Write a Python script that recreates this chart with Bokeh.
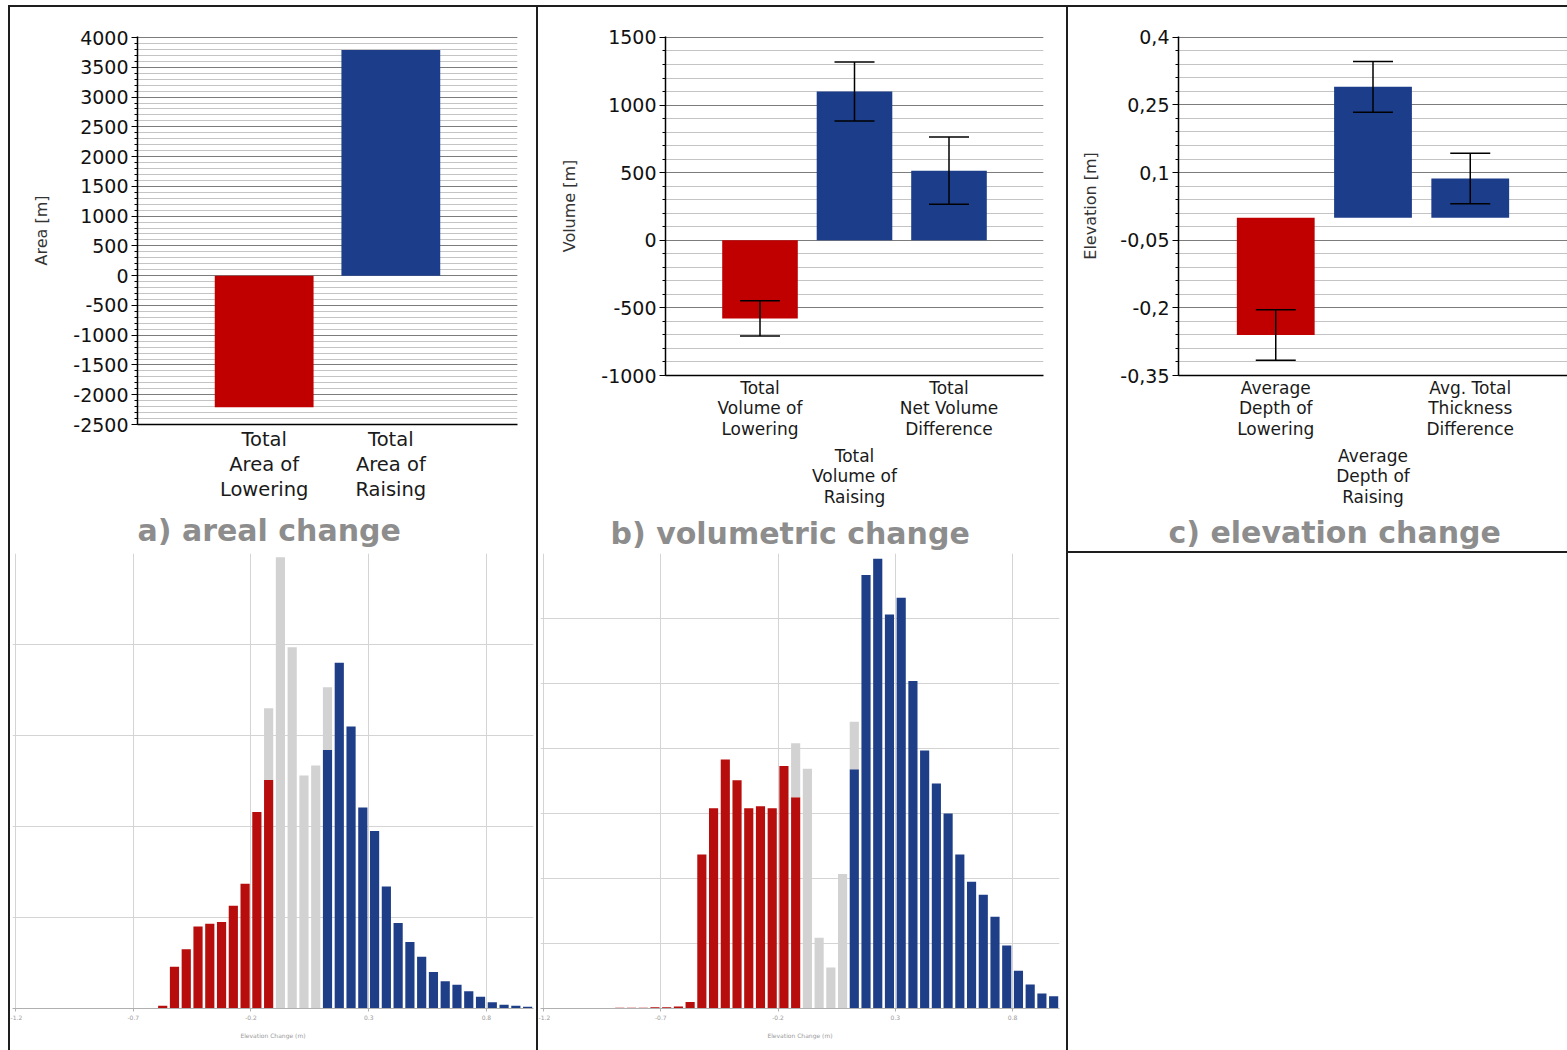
from bokeh.plotting import figure
from bokeh.models import (ColumnDataSource, FixedTicker, SingleIntervalTicker, LinearAxis,
                          Whisker, TeeHead, Title, Range1d, Spacer, PrintfTickFormatter)
from bokeh.layouts import row, column
from bokeh.embed import file_html
from bokeh.resources import INLINE

FONT = "DejaVu Sans"

# ---------------- data ----------------
area_categories = ["Total\nArea of\nLowering", "Total\nArea of\nRaising"]
area_values = [-2210, 3790]

volume_categories = ["Total\nVolume of\nLowering", "Total\nVolume of\nRaising", "Total\nNet Volume\nDifference"]
volume_values = [-578, 1100, 515]
volume_errors = [130, 218, 248]

elevation_categories = ["Average\nDepth of\nLowering", "Average\nDepth of\nRaising", "Avg. Total\nThickness\nDifference"]
elevation_values = [-0.26, 0.29, 0.087]
elevation_errors = [0.056, 0.056, 0.056]
elevation_ticks = [-0.35, -0.2, -0.05, 0.1, 0.25, 0.4]
elevation_tick_labels = ["-0,35", "-0,2", "-0,05", "0,1", "0,25", "0,4"]

hist_bin_centers = [-0.875, -0.825, -0.775, -0.725, -0.675, -0.625, -0.575, -0.525, -0.475, -0.425,
                    -0.375, -0.325, -0.275, -0.225, -0.175, -0.125, -0.075, -0.025, 0.025, 0.075,
                    0.125, 0.175, 0.225, 0.275, 0.325, 0.375, 0.425, 0.475, 0.525, 0.575,
                    0.625, 0.675, 0.725, 0.775, 0.825, 0.875, 0.925, 0.975]
hist_ticks = [-1.2, -0.7, -0.2, 0.3, 0.8]

# areal histogram (grid units)
area_hist_lowering = [0, 0, 0, 0, 0, 0, 0.03, 0.46, 0.65, 0.90,
                      0.93, 0.95, 1.13, 1.37, 2.16, 2.51, 0, 0, 0, 0,
                      0, 0, 0, 0, 0, 0, 0, 0, 0, 0,
                      0, 0, 0, 0, 0, 0, 0, 0]
area_hist_nodetect = [0, 0, 0, 0, 0, 0, 0, 0, 0, 0,
                      0, 0, 0, 0, 0, 0.79, 4.96, 3.97, 2.56, 2.67,
                      0.69, 0, 0, 0, 0, 0, 0, 0, 0, 0,
                      0, 0, 0, 0, 0, 0, 0, 0]
area_hist_raising = [0, 0, 0, 0, 0, 0, 0, 0, 0, 0,
                     0, 0, 0, 0, 0, 0, 0, 0, 0, 0,
                     2.84, 3.80, 3.10, 2.21, 1.95, 1.34, 0.94, 0.73, 0.57, 0.40,
                     0.30, 0.26, 0.19, 0.13, 0.07, 0.04, 0.03, 0.02]

# volumetric histogram (grid units)
vol_hist_lowering = [0.01, 0.01, 0.01, 0.02, 0.02, 0.03, 0.10, 2.37, 3.08, 3.83,
                     3.51, 3.08, 3.11, 3.08, 3.73, 3.25, 0, 0, 0, 0,
                     0, 0, 0, 0, 0, 0, 0, 0, 0, 0,
                     0, 0, 0, 0, 0, 0, 0, 0]
vol_hist_nodetect = [0, 0, 0, 0, 0, 0, 0, 0, 0, 0,
                     0, 0, 0, 0, 0, 0.83, 3.69, 1.09, 0.63, 2.07,
                     0.73, 0, 0, 0, 0, 0, 0, 0, 0, 0,
                     0, 0, 0, 0, 0, 0, 0, 0]
vol_hist_raising = [0, 0, 0, 0, 0, 0, 0, 0, 0, 0,
                    0, 0, 0, 0, 0, 0, 0, 0, 0, 0,
                    3.68, 6.67, 6.92, 6.06, 6.32, 5.04, 3.97, 3.46, 3.00, 2.37,
                    1.95, 1.75, 1.41, 0.97, 0.58, 0.37, 0.23, 0.19]

# ---------------- styles ----------------
RED = "#c00000"
BLUE = "#1c3d8a"
HRED = "#b70d0d"
HBLUE = "#1f3e88"
GRAY = "#d2d2d2"
BORDER = "#1e1e1e"
TITLE_COLOR = "#8d8d8d"


def style_left_axis(p, ticker, label, standoff, overrides=None):
    ax = p.yaxis[0]
    ax.ticker = ticker
    ax.formatter = PrintfTickFormatter(format="%d")
    ax.axis_line_color = "black"
    ax.axis_line_width = 1.5
    ax.major_tick_line_color = "black"
    ax.minor_tick_line_color = "black"
    ax.major_tick_out = 6
    ax.major_tick_in = 0
    ax.minor_tick_out = 3
    ax.minor_tick_in = 0
    ax.major_label_text_font = FONT
    ax.major_label_text_font_size = "19px"
    ax.major_label_text_color = "#111111"
    ax.major_label_standoff = 3
    if overrides:
        ax.major_label_overrides = overrides
    ax.axis_label = label
    ax.axis_label_text_font = FONT
    ax.axis_label_text_font_size = "16px"
    ax.axis_label_text_font_style = "normal"
    ax.axis_label_text_color = "#333333"
    ax.axis_label_standoff = standoff
    p.ygrid.grid_line_color = "#7c7c7c"
    p.ygrid.grid_line_width = 1
    p.ygrid.minor_grid_line_color = "#c4c4c4"
    p.ygrid.minor_grid_line_width = 1
    p.xgrid.visible = False


def style_bottom_axis(ax, ticks, labels, size, standoff, line_height, with_line=True):
    ax.ticker = FixedTicker(ticks=ticks)
    ax.major_label_overrides = {t: l for t, l in zip(ticks, labels)}
    ax.axis_line_color = "black" if with_line else None
    ax.axis_line_width = 1.5
    ax.major_tick_line_color = None
    ax.minor_tick_line_color = None
    ax.major_tick_out = 0
    ax.major_tick_in = 0
    ax.major_label_text_font = FONT
    ax.major_label_text_font_size = size
    ax.major_label_text_color = "#1a1a1a"
    ax.major_label_text_line_height = line_height
    ax.major_label_standoff = standoff


def base_bar_fig(width, height, mb_left, mb_right, mb_bottom, x_end, y0, y1):
    return figure(width=width, height=height, x_range=Range1d(0, x_end), y_range=Range1d(y0, y1),
                  output_backend="svg", toolbar_location=None,
                  min_border_left=mb_left, min_border_right=mb_right,
                  min_border_top=29, min_border_bottom=mb_bottom,
                  outline_line_color=None, background_fill_color="white",
                  border_fill_color="white")


def add_title(p, text, offset, standoff):
    p.add_layout(Title(text=text, align="left", offset=offset, text_font=FONT,
                       text_font_size="30px", text_font_style="bold",
                       text_color=TITLE_COLOR, standoff=standoff), "below")


def add_bars(p, xs, vals, width, errs=None):
    src = ColumnDataSource(dict(
        x=xs, top=vals,
        color=[RED if v < 0 else BLUE for v in vals],
        upper=[v + e for v, e in zip(vals, errs)] if errs else vals,
        lower=[v - e for v, e in zip(vals, errs)] if errs else vals,
    ))
    p.vbar(x="x", top="top", bottom=0, width=width, fill_color="color",
           line_color=None, source=src)
    if errs:
        p.add_layout(Whisker(source=src, base="x", upper="upper", lower="lower",
                             level="annotation", line_color="black", line_width=1.5,
                             upper_head=TeeHead(size=40, line_color="black", line_width=1.5),
                             lower_head=TeeHead(size=40, line_color="black", line_width=1.5)))


# ---------------- a) areal change ----------------
fig_a = base_bar_fig(526, 546, 127, 19, 129, 3, -2500, 4017)
style_left_axis(fig_a, SingleIntervalTicker(interval=500, num_minor_ticks=5), "Area [m]", 19)
style_bottom_axis(fig_a.xaxis[0], [1, 2], area_categories, "19.5px", 3, 1.10)
add_bars(fig_a, [1, 2], area_values, 0.78)
add_title(fig_a, "a) areal change", 0, 12)

# ---------------- b) volumetric change ----------------
fig_b = base_bar_fig(528, 546, 127, 23, 178, 4, -1000, 1507)
style_left_axis(fig_b, SingleIntervalTicker(interval=500, num_minor_ticks=5), "Volume [m]", 19)
style_bottom_axis(fig_b.xaxis[0], [1, 3], [volume_categories[0], volume_categories[2]], "17px", 2, 1.04)
ax_b2 = LinearAxis()
style_bottom_axis(ax_b2, [2], [volume_categories[1]], "17px", 3, 1.04, with_line=False)
fig_b.add_layout(ax_b2, "below")
add_bars(fig_b, [1, 2, 3], volume_values, 0.8, volume_errors)
add_title(fig_b, "b) volumetric change", -55, 6)

# ---------------- c) elevation change ----------------
fig_c = base_bar_fig(499, 544, 110, 0, 176, 4, -0.35, 0.4017)
minor_c = [round(-0.35 + 0.03 * k, 4) for k in range(26)]
style_left_axis(fig_c, FixedTicker(ticks=elevation_ticks, minor_ticks=minor_c), "Elevation [m]", 17,
                overrides={t: l for t, l in zip(elevation_ticks, elevation_tick_labels)})
style_bottom_axis(fig_c.xaxis[0], [1, 3], [elevation_categories[0], elevation_categories[2]], "17px", 2, 1.04)
ax_c2 = LinearAxis()
style_bottom_axis(ax_c2, [2], [elevation_categories[1]], "17px", 3, 1.04, with_line=False)
fig_c.add_layout(ax_c2, "below")
add_bars(fig_c, [1, 2, 3], elevation_values, 0.8, elevation_errors)
add_title(fig_c, "c) elevation change", -10, 4)


# ---------------- histograms ----------------
def make_hist(width, mb_left, mb_right, ymax, low, nod, rai):
    p = figure(width=width, height=497, x_range=Range1d(-1.213, 1.0), y_range=Range1d(0, ymax),
               output_backend="svg", toolbar_location=None,
               min_border_left=mb_left, min_border_right=mb_right,
               min_border_top=0, min_border_bottom=42, outline_line_color=None,
               background_fill_color="white", border_fill_color="white")
    p.yaxis.visible = False
    p.ygrid.ticker = SingleIntervalTicker(interval=1)
    p.ygrid.grid_line_color = "#d4d4d4"
    p.xgrid.grid_line_color = "#d4d4d4"
    ax = p.xaxis[0]
    ax.ticker = FixedTicker(ticks=hist_ticks)
    ax.formatter = PrintfTickFormatter(format="%.1f")
    ax.axis_line_color = "#b0b0b0"
    ax.major_tick_line_color = "#b0b0b0"
    ax.minor_tick_line_color = None
    ax.major_tick_out = 3
    ax.major_tick_in = 0
    ax.major_label_text_font = FONT
    ax.major_label_text_font_size = "6px"
    ax.major_label_text_color = "#9a9a9a"
    ax.major_label_standoff = 3
    ax.axis_label = "Elevation Change (m)"
    ax.axis_label_text_font = FONT
    ax.axis_label_text_font_size = "6px"
    ax.axis_label_text_font_style = "normal"
    ax.axis_label_text_color = "#9a9a9a"
    ax.axis_label_standoff = 9
    base = [l + r for l, r in zip(low, rai)]
    src = ColumnDataSource(dict(x=hist_bin_centers, low=low, rai=rai, base=base,
                                top=[b + n for b, n in zip(base, nod)]))
    p.vbar(x="x", top="low", bottom=0, width=0.039, fill_color=HRED, line_color=None, source=src)
    p.vbar(x="x", top="rai", bottom=0, width=0.039, fill_color=HBLUE, line_color=None, source=src)
    p.vbar(x="x", top="top", bottom="base", width=0.039, fill_color=GRAY, line_color=None, source=src)
    return p


hist_a = make_hist(526, 2, 3, 5, area_hist_lowering, area_hist_nodetect, area_hist_raising)
hist_b = make_hist(528, 2, 7, 7, vol_hist_lowering, vol_hist_nodetect, vol_hist_raising)


# ---------------- frame lines & layout ----------------
def vline(h):
    return Spacer(width=2, height=h, styles={"background-color": BORDER})


def hline(w):
    return Spacer(width=w, height=2, styles={"background-color": BORDER})


# each figure is wrapped in its own row so that the column does not align plot frames
col_a = column(hline(526), row(fig_a), row(hist_a))
col_b = column(hline(528), row(fig_b), row(hist_b))
col_c = column(hline(499), row(fig_c), hline(499))

layout = column(
    Spacer(width=1567, height=5),
    row(Spacer(width=8, height=1045), vline(1045), col_a, vline(1045), col_b, vline(1045), col_c),
)

open("out.html", "w").write(file_html(layout, INLINE))
